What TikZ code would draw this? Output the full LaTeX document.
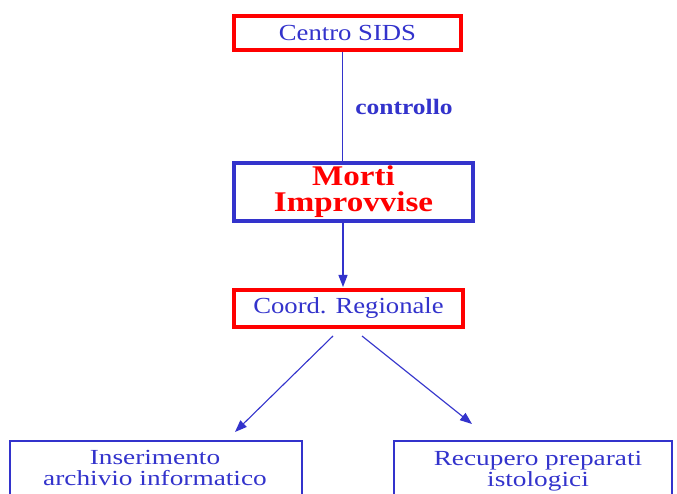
\documentclass[tikz,border=0pt]{standalone}
\usepackage{fontspec}
\setmainfont{Liberation Serif}
\newfontfamily\widea[FakeStretch=1.16]{Liberation Serif}
\newfontfamily\wideb[FakeStretch=1.27]{Liberation Serif}
\usetikzlibrary{arrows.meta}
\definecolor{dblue}{RGB}{51,51,204}
\definecolor{dred}{RGB}{255,0,0}
\tikzset{
  redbox/.style={draw=dred, line width=4pt, rectangle, inner sep=0pt, text=dblue,
    font=\widea\fontsize{23}{23}\selectfont},
  bluebox/.style={draw=dblue, line width=4pt, rectangle, inner sep=0pt, text=dred, align=center,
    font=\widea\bfseries\fontsize{28.5}{26}\selectfont},
  conn/.style={draw=dblue, line width=1.1pt},
  arr/.style={conn, -{Triangle[length=12pt,width=9pt]}},
  lowbox/.style={draw=dblue, line width=1.5pt},
  lowtext/.style={text=dblue, align=center, inner sep=0pt, anchor=north,
    font=\wideb\fontsize{21.5}{21}\selectfont},
  lbl/.style={text=dblue, inner sep=0pt, font=\widea\bfseries\fontsize{22}{22}\selectfont}
}
\begin{document}
\begin{tikzpicture}[x=1pt,y=1pt]
\useasboundingbox (0,0) rectangle (677,493);
\clip (0,0) rectangle (677,493);
\fill[white] (0,0) rectangle (677,493);
\node (cs) [redbox, minimum width=227pt, minimum height=34pt] at (347.5,460) {Centro SIDS};
\node (mi) [bluebox, minimum width=239pt, minimum height=58pt] at (353.5,301) {Morti\\Improvvise};
\node (cr) [redbox, minimum width=229pt, minimum height=37pt] at (348.5,184.5) {Coord. Regionale};
\node (ctl) [lbl] at (404,386) {controllo};
\coordinate (la) at (235,61);
\coordinate (ra) at (472,69);
\coordinate (ls) at (333,157);
\coordinate (rs) at (362,157);
\draw[conn] ([xshift=-5pt]cs.south) -- ([xshift=-11pt]mi.north);
\draw[arr] ([xshift=-10.5pt]mi.south) -- ([xshift=-5.5pt,yshift=1pt]cr.north);
\draw[arr] (ls) -- (la);
\draw[arr] (rs) -- (ra);
\draw[lowbox] (10,52) rectangle (302,-20);
\draw[lowbox] (394,52) rectangle (672,-20);
\node (ins) [lowtext] at (155,43) {Inserimento\\archivio informatico};
\node (rec) [lowtext] at (538,42) {Recupero preparati\\istologici};
\end{tikzpicture}
\end{document}
